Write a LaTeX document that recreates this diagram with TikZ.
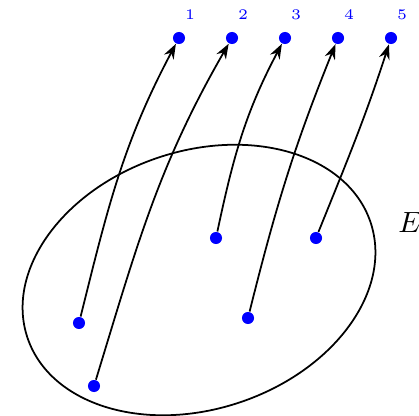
\documentclass[tikz,border=0pt]{standalone}
\usetikzlibrary{arrows.meta}
\begin{document}
\begin{tikzpicture}[x=0.012cm,y=-0.012cm,
    dot/.style={circle,fill=blue,inner sep=0pt,minimum size=0.145cm},
    lbl/.style={text=blue,font=\tiny},
    maparrow/.style={semithick,-{Stealth[length=1.8mm,width=1.3mm]}}]
\useasboundingbox (0,0) rectangle (419,416);
% the set E
\draw[semithick,rotate around={18.65:(199,280)}] (199,280) ellipse[x radius=181,y radius=129];
\node (E) at (410,222) {$E$};
% points inside E
\node[dot] (s1) at (79,323) {};
\node[dot] (s2) at (94,386) {};
\node[dot] (s3) at (216,238) {};
\node[dot] (s4) at (248,318) {};
\node[dot] (s5) at (316,238) {};
% targets with their numbers
\foreach \i/\x in {1/179,2/232,3/285,4/338,5/391} {
  \node[dot] (t\i) at (\x,38) {};
  \node[lbl] (n\i) at (\x+11,15) {\i};
}
\draw[maparrow] (s1) to[out=76,in=-118] (t1);
\draw[maparrow] (s2) to[out=73,in=-120] (t2);
\draw[maparrow] (s3) to[out=78,in=-118] (t3);
\draw[maparrow] (s4) to[out=76,in=-112] (t4);
\draw[maparrow] (s5) to[out=68,in=-108] (t5);
\end{tikzpicture}
\end{document}
